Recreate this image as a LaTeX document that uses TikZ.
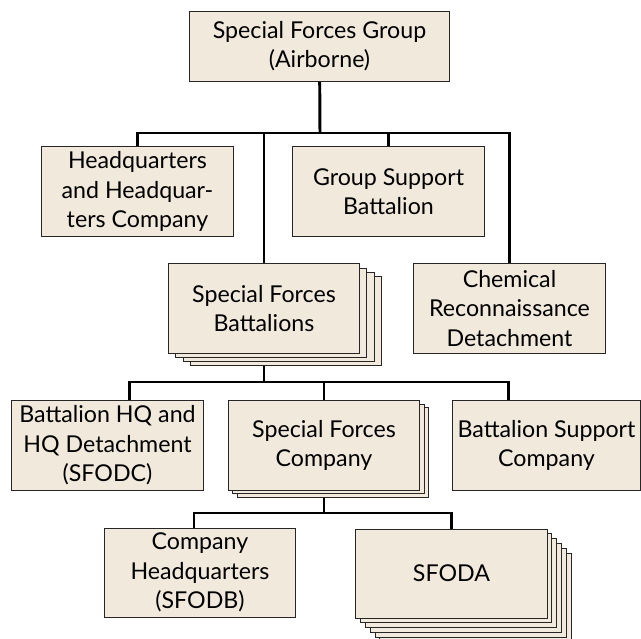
\documentclass[tikz,border=0pt]{standalone}
\usepackage{fontspec}
\setmainfont{Lato}
\usetikzlibrary{backgrounds}
\definecolor{boxfill}{RGB}{241,233,219}
\def\stacknode#1#2#3#4#5#6{
      \foreach \k in {#3,...,1}
        \node[box] (#1\k) at ([shift={(\k*#4,\k*#5)}]#2) {};
      \node[box] (#1) at (#2) {#6};
  }

\begin{document}
\begin{tikzpicture}[x=0.025cm, y=-0.025cm,
  box/.style = {draw=black!85, line width=.7pt
    , fill=boxfill
    , minimum width=4.775cm, minimum height=2.225cm, inner sep=2pt
    , align=center, font=\fontsize{16.5}{21}\selectfont},
  link/.style = {draw=black, line width=2.1pt}]

 \useasboundingbox (0,0) rectangle (641,639);

 \node[box, minimum width=6.475cm, minimum height=1.75cm] (sfg) at (319.5,46)
      {Special Forces Group\\(Airborne)};
 \node[box] (hhc) at (137.5,191.5) {Headquarters\\and Headquar-\\ters Company};
 \node[box] (gsb) at (388.5,191.5) {Group Support\\Battalion};
 \node[box] (crd) at (509.5,308.5) {Chemical\\Reconnaissance\\Detachment};
 \stacknode{sfb}{264,308.5}{3}{7.3}{4.3}{Special Forces\\Battalions}
 \node[box] (bhq) at (107.5,445.5) {Battalion HQ and\\HQ Detachment\\(SFODC)};
 \stacknode{sfc}{324,445.5}{2}{4.5}{3.5}{Special Forces\\Company}
 \node[box, minimum width=4.675cm] (bsc) at (546.5,445.5) {Battalion Support\\Company};
 \node[box] (chq) at (200,572.5) {Company\\Headquarters\\(SFODB)};
 \stacknode{sfoda}{451.5,573.5}{5}{4.8}{4.8}{SFODA}

 \begin{pgfonlayer}{background}
  \coordinate (bus1) at (320,133);
  \coordinate (bus2) at (264,382);
  \coordinate (bus3) at (324,513);
  \draw[link] (sfg) -- (bus1);
  \draw[link] (hhc.north) |- (bus1) -| (crd.north);
  \draw[link] (gsb.north) -- (gsb.north |- bus1);
  \draw[link] (sfb.north) -- (sfb.north |- bus1);
  \draw[link] (sfb) -- (bus2);
  \draw[link] ([xshift=.54cm]bhq.north) |- (bus2) -| ([xshift=-.94cm]bsc.north);
  \draw[link] (sfc.north) -- (sfc.north |- bus2);
  \draw[link] (sfc) -- (bus3);
  \draw[link] ([xshift=-.15cm]chq.north) |- (bus3) -| (sfoda.north);
 \end{pgfonlayer}
\end{tikzpicture}
\end{document}
